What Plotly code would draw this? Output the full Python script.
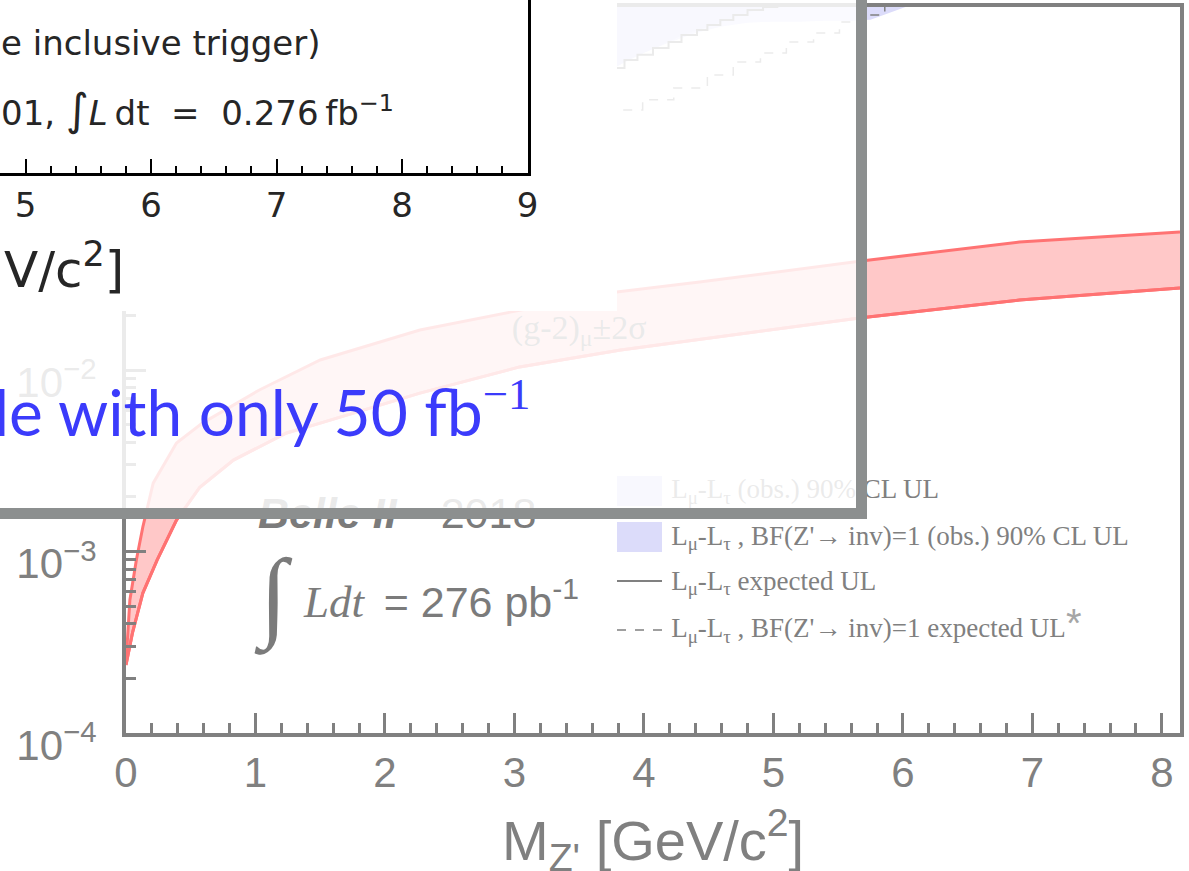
import plotly.graph_objects as go

W, H = 1189, 871

# ---------------- data ----------------
# Belle II 2018: (g-2)_mu +/- 2 sigma band edges (mass in GeV/c^2, coupling g')
band_upper_mass = [0.0, 0.03, 0.08, 0.13, 0.21, 0.39, 0.59, 1.03, 1.50, 2.27, 3.05, 3.79, 4.43, 5.68, 6.90, 8.14]
band_upper_g = [2.43e-4, 5.41e-4, 8.97e-4, 1.365e-3, 2.38e-3, 3.96e-3, 5.10e-3, 7.76e-3,
                1.135e-2, 1.66e-2, 2.14e-2, 2.69e-2, 3.05e-2, 3.99e-2, 5.07e-2, 5.75e-2]
band_lower_mass = [0.0, 0.05, 0.13, 0.24, 0.39, 0.57, 0.83, 1.24, 1.50, 2.27, 3.04, 3.82, 5.68, 6.90, 8.14]
band_lower_g = [2.37e-4, 3.56e-4, 5.90e-4, 8.97e-4, 1.49e-3, 2.26e-3, 3.19e-3, 4.50e-3,
                5.10e-3, 7.46e-3, 1.04e-2, 1.29e-2, 1.94e-2, 2.43e-2, 2.83e-2]

# L_mu - L_tau expected UL (step curve)
exp_mass = [3.79, 3.85, 3.95, 4.07, 4.19, 4.29, 4.41, 4.49, 4.59, 4.69, 4.80, 4.92, 5.03]
exp_g = [0.461, 0.510, 0.545, 0.594, 0.641, 0.701, 0.746, 0.796, 0.847, 0.904, 0.962, 1.0, 1.05]
# L_mu - L_tau, BF(Z'->inv)=1 expected UL
expbf_mass = [3.84, 3.99, 4.23, 4.49, 4.69, 4.90, 5.10, 5.31, 5.51, 5.67, 5.86]
expbf_g = [0.271, 0.308, 0.358, 0.422, 0.498, 0.558, 0.641, 0.719, 0.826, 0.904, 1.0]
# observed 90% CL UL (excluded above)
obs_mass = [3.79, 3.90, 4.10, 4.30, 4.50, 4.70, 4.90, 5.05]
obs_g = [0.47, 0.52, 0.60, 0.70, 0.78, 0.88, 0.98, 1.0]
obsbf_mass = [3.79, 4.00, 4.20, 4.40, 4.60, 4.80, 5.00, 5.20, 5.40, 5.60, 5.75, 6.02]
obsbf_g = [0.47, 0.56, 0.64, 0.72, 0.78, 0.82, 0.83, 0.83, 0.84, 0.84, 0.85, 1.0]

x_tick_vals = [0, 1, 2, 3, 4, 5, 6, 7, 8]
y_tick_vals = [1e-4, 1e-3, 1e-2, 1e-1]
y_tick_text = ["10<sup>\u22124</sup>", "10<sup>\u22123</sup>", "10<sup>\u22122</sup>", "10<sup>\u22121</sup>"]
inset_tick_vals = [5, 6, 7, 8, 9]

legend_labels = [
    "L<sub>\u03bc</sub>-L<sub>\u03c4</sub> (obs.) 90% CL UL",
    "L<sub>\u03bc</sub>-L<sub>\u03c4</sub> , BF(Z'\u2192 inv)=1 (obs.) 90% CL UL",
    "L<sub>\u03bc</sub>-L<sub>\u03c4</sub> expected UL",
    "L<sub>\u03bc</sub>-L<sub>\u03c4</sub> , BF(Z'\u2192 inv)=1 expected UL"
    "<span style='font-family:Liberation Sans;font-size:40px;color:#a6a6a6'>*</span>",
]
legend_g = [2.15e-3, 1.19e-3, 6.7e-4, 3.69e-4]

# ---------------- styles ----------------
GRAY = "#808080"
TXT = "#7b7b7b"
BAR = "#8c8f8f"
RED_LINE = "#ff7373"
RED_FILL = "#ffc8c8"
LAV1 = "#d4d4f8"
LAV2 = "#dcdcfa"
SANS = "Liberation Sans"
SERIF = "Liberation Serif"
INK = "#262626"

# Belle plot area in pixels
BX0, BX1, BY0, BY1 = 126, 1180, 7, 733


def bdx(px):
    return (px - BX0) / (BX1 - BX0)


def bdy(py):
    return (BY1 - py) / (BY1 - BY0)


fig = go.Figure()

# --- Belle II plot (x, y) ---
fig.add_trace(go.Scatter(x=band_lower_mass, y=band_lower_g, mode="lines",
                         line=dict(color=RED_LINE, width=3), hoverinfo="skip"))
fig.add_trace(go.Scatter(x=band_upper_mass, y=band_upper_g, mode="lines", fill="tonexty",
                         fillcolor=RED_FILL, line=dict(color=RED_LINE, width=3), hoverinfo="skip"))
fig.add_trace(go.Scatter(x=band_lower_mass, y=band_lower_g, mode="lines",
                         line=dict(color=RED_LINE, width=3), hoverinfo="skip"))

n = len(obsbf_mass)
fig.add_trace(go.Scatter(x=obsbf_mass + obsbf_mass[::-1], y=obsbf_g + [1.0] * n,
                         mode="lines", fill="toself", fillcolor=LAV2, line=dict(width=0),
                         hoverinfo="skip"))
n = len(obs_mass)
fig.add_trace(go.Scatter(x=obs_mass + obs_mass[::-1], y=obs_g + [1.0] * n,
                         mode="lines", fill="toself", fillcolor=LAV1, line=dict(width=0),
                         hoverinfo="skip"))
fig.add_trace(go.Scatter(x=exp_mass, y=exp_g, mode="lines", line_shape="hv",
                         line=dict(color=GRAY, width=2), hoverinfo="skip"))
fig.add_trace(go.Scatter(x=expbf_mass, y=expbf_g, mode="lines", line_shape="hv",
                         line=dict(color=GRAY, width=1.5, dash="dash"), hoverinfo="skip"))


def txt(x, y, text, size, family=SANS, color=TXT, pos="middle right"):
    fig.add_trace(go.Scatter(x=[x], y=[y], mode="text", text=[text], textposition=pos,
                             textfont=dict(family=family, size=size, color=color),
                             hoverinfo="skip"))


txt(1.02, 1.55e-3, "<b><i>Belle II</i></b>", 43)
txt(2.43, 1.55e-3, "2018", 43)
txt(1.14, 5.2e-4, "\u222b", 100, family=SERIF, pos="middle center")
txt(1.375, 5.0e-4, "<i>Ldt</i>", 45, family=SERIF)
txt(1.99, 5.0e-4, "= 276 pb<sup>-1</sup>", 43)
txt(2.98, 1.66e-2, "(g-2)<sub>\u03bc</sub>\u00b12\u03c3", 34, family=SERIF)
for lab, g in zip(legend_labels, legend_g):
    txt(4.21, g, lab, 27, family=SERIF, color=GRAY)

# dummy traces to create overlay / inset subplots
fig.add_trace(go.Scatter(x=[], y=[], xaxis="x2", yaxis="y2"))
fig.add_trace(go.Scatter(x=[], y=[], xaxis="x3", yaxis="y3"))

shapes = []
# Belle legend symbols (below everything)
shapes.append(dict(type="rect", xref="x domain", yref="y domain", layer="below",
                   x0=bdx(617), x1=bdx(662), y0=bdy(506), y1=bdy(476),
                   fillcolor=LAV1, line=dict(width=0)))
shapes.append(dict(type="rect", xref="x domain", yref="y domain", layer="below",
                   x0=bdx(617), x1=bdx(662), y0=bdy(552), y1=bdy(522),
                   fillcolor=LAV2, line=dict(width=0)))
shapes.append(dict(type="line", xref="x domain", yref="y domain", layer="below",
                   x0=bdx(617), x1=bdx(662), y0=bdy(581), y1=bdy(581),
                   line=dict(color=GRAY, width=2)))
shapes.append(dict(type="line", xref="x domain", yref="y domain", layer="below",
                   x0=bdx(617), x1=bdx(662), y0=bdy(630), y1=bdy(630),
                   line=dict(color=GRAY, width=1.5, dash="dash")))
# overlay panel (subplot x2y2, pixel-like units)
shapes.append(dict(type="rect", xref="x2", yref="y2", layer="below", x0=0, x1=856, y0=0, y1=508,
                   fillcolor="white", opacity=0.84, line=dict(width=0)))
shapes.append(dict(type="rect", xref="x2", yref="y2", layer="below", x0=856, x1=867, y0=0, y1=519,
                   fillcolor=BAR, line=dict(width=0)))
shapes.append(dict(type="rect", xref="x2", yref="y2", layer="below", x0=0, x1=856, y0=508, y1=519,
                   fillcolor=BAR, line=dict(width=0)))
shapes.append(dict(type="rect", xref="x2", yref="y2", layer="below", x0=0, x1=617, y0=0, y1=311,
                   fillcolor="white", line=dict(width=0)))

annotations = [
    dict(text="M<sub>Z'</sub> [GeV/c<sup>2</sup>]", x=653 / W, y=1 - 840 / H,
         font=dict(family=SANS, size=56, color=GRAY)),
    dict(text="e inclusive trigger)", x=323 / W, y=1 - 43 / H, xanchor="right",
         font=dict(family="DejaVu Sans", size=34, color=INK)),
    dict(text="01, <span style='font-size:44px'>\u222b</span><i>L</i>\u2009dt\u00a0\u00a0=\u00a0\u00a00.276\u2009fb<sup>\u22121</sup>",
         x=396 / W, y=1 - 110 / H, xanchor="right",
         font=dict(family="DejaVu Sans", size=34, color=INK)),
    dict(text="V/c<sup>2</sup>]", x=126 / W, y=1 - 266 / H, xanchor="right",
         font=dict(family="DejaVu Sans", size=50, color=INK)),
    dict(text="le with only 50 fb<sup><span style='font-family:Liberation Serif'>\u22121</span></sup>",
         x=532 / W, y=1 - 410 / H, xanchor="right",
         font=dict(family="Lato", size=64, color="#3b3bfb")),
]
for a in annotations:
    a.update(xref="paper", yref="paper", showarrow=False, yanchor="middle")

minor_y = [k * 10.0 ** e for e in range(-4, 0) for k in range(2, 10)]

fig.update_layout(
    width=W, height=H, margin=dict(l=0, r=0, t=0, b=0),
    paper_bgcolor="white", plot_bgcolor="rgba(0,0,0,0)", showlegend=False,
    shapes=shapes, annotations=annotations,
    xaxis=dict(domain=[BX0 / W, BX1 / W], range=[0, 8.14], anchor="y",
               showline=True, mirror=True, linecolor=GRAY, linewidth=4,
               ticks="inside", ticklen=20, tickwidth=2.5, tickcolor=GRAY,
               tickmode="array", tickvals=x_tick_vals, ticktext=[str(v) for v in x_tick_vals],
               tickfont=dict(family=SANS, size=42, color=GRAY), ticklabelstandoff=0,
               minor=dict(dtick=0.2, ticks="inside", ticklen=10, tickwidth=2.5, tickcolor=GRAY),
               showgrid=False, zeroline=False, automargin=False),
    yaxis=dict(domain=[(H - BY1) / H, (H - BY0) / H], type="log", range=[-4, 0], anchor="x",
               showline=True, mirror=True, linecolor=GRAY, linewidth=4,
               ticks="inside", ticklen=20, tickwidth=2.5, tickcolor=GRAY,
               tickmode="array", tickvals=y_tick_vals, ticktext=y_tick_text,
               tickfont=dict(family=SANS, size=42, color=GRAY), ticklabelstandoff=17,
               ticklabelshift=12,
               minor=dict(tickmode="array", tickvals=minor_y, ticks="inside", ticklen=10,
                          tickwidth=2.5, tickcolor=GRAY),
               showgrid=False, zeroline=False, automargin=False),
    xaxis2=dict(domain=[0, 867 / W], range=[0, 867], anchor="y2", visible=False),
    yaxis2=dict(domain=[1 - 519 / H, 1], range=[519, 0], anchor="x2", visible=False),
    xaxis3=dict(domain=[0, 527.5 / W], range=[9 - 527.5 / 125.5, 9], anchor="y3",
                showline=True, linecolor="black", linewidth=3,
                ticks="inside", ticklen=14, tickwidth=2, tickcolor="black",
                tickmode="array", tickvals=inset_tick_vals,
                tickfont=dict(family="DejaVu Sans", size=34, color=INK), ticklabelstandoff=0,
                minor=dict(dtick=0.2, tick0=0, ticks="inside", ticklen=7, tickwidth=1.5, tickcolor="black"),
                showgrid=False, zeroline=False, automargin=False),
    yaxis3=dict(domain=[1 - 173 / H, 1], range=[0, 1], anchor="x3", side="right",
                showline=True, linecolor="black", linewidth=3, ticks="",
                showticklabels=False, showgrid=False, zeroline=False, automargin=False),
)

fig.write_html("out.html")
